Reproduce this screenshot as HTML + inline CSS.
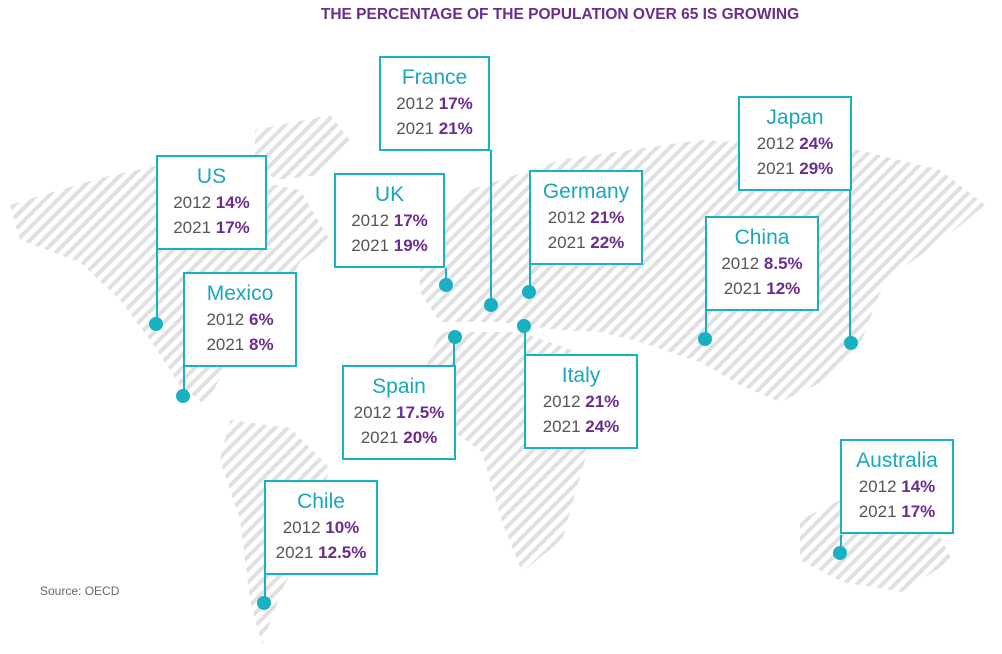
<!DOCTYPE html>
<html><head><meta charset="utf-8"><style>
body{margin:0;background:#fff;width:1002px;height:654px;overflow:hidden;position:relative;font-family:"Liberation Sans",sans-serif}
.t{position:absolute;top:6px;left:0;width:1120px;text-align:center;font-weight:bold;font-size:15.5px;color:#6b2c8f}
.b{position:absolute;width:111px;height:95px;border:2px solid #1ab0c3;background:#fff;text-align:center;box-sizing:border-box}
.b .n{color:#19a7bd;font-size:21px;margin-top:7px;line-height:26px}
.b .r{color:#555;font-size:17px;line-height:25px}
.b .r b{color:#6b2c8f}
.s{position:absolute;left:40px;top:584px;font-size:12px;color:#666}
</style></head><body>
<svg width="1002" height="654" style="position:absolute;left:0;top:0">
<defs><pattern id="p" width="9" height="9" patternUnits="userSpaceOnUse" patternTransform="rotate(45)"><rect width="4" height="9" fill="#e0e0e0"/></pattern></defs>
<g fill="url(#p)">
<polygon points="10,205 100,178 160,165 250,180 300,190 330,240 300,262 280,300 250,330 225,370 205,405 180,385 150,340 120,300 80,262 20,240"/>
<polygon points="255,130 330,115 350,140 320,175 275,180 255,160"/>
<polygon points="230,420 290,428 330,468 312,530 282,590 262,645 250,600 240,520 220,460"/>
<polygon points="420,232 470,190 560,160 700,140 850,148 940,170 985,205 940,242 885,280 862,340 822,382 780,402 740,385 700,362 640,342 600,332 560,330 500,322 440,322 420,292"/>
<polygon points="440,332 520,332 572,350 602,402 582,470 562,540 522,572 502,522 482,452 440,422 420,382"/>
<polygon points="800,520 860,490 922,500 952,560 902,592 842,582 800,560"/>
</g>
<g stroke="#1ab0c3" stroke-width="2" fill="#1ab0c3">
<line x1="491" y1="150" x2="491" y2="305"/><circle cx="491" cy="305" r="6"/>
<line x1="157" y1="250" x2="157" y2="324"/><circle cx="156" cy="324" r="6"/>
<line x1="446" y1="268" x2="446" y2="285"/><circle cx="446" cy="285" r="6"/>
<line x1="530" y1="265" x2="530" y2="292"/><circle cx="529" cy="292" r="6"/>
<line x1="850" y1="190" x2="850" y2="343"/><circle cx="851" cy="343" r="6"/>
<line x1="706" y1="310" x2="706" y2="339"/><circle cx="705" cy="339" r="6"/>
<line x1="184" y1="366" x2="184" y2="396"/><circle cx="183" cy="396" r="6"/>
<line x1="454" y1="366" x2="454" y2="337"/><circle cx="455" cy="337" r="6"/>
<line x1="525" y1="355" x2="525" y2="326"/><circle cx="524" cy="326" r="6"/>
<line x1="265" y1="575" x2="265" y2="603"/><circle cx="264" cy="603" r="6"/>
<line x1="841" y1="535" x2="841" y2="553"/><circle cx="840" cy="553" r="6"/>
</g></svg>
<div class="t">THE PERCENTAGE OF THE POPULATION OVER 65 IS GROWING</div>
<div class="b" style="left:379px;top:56px"><div class="n">France</div><div class="r">2012 <b>17%</b></div><div class="r">2021 <b>21%</b></div></div>
<div class="b" style="left:156px;top:155px"><div class="n">US</div><div class="r">2012 <b>14%</b></div><div class="r">2021 <b>17%</b></div></div>
<div class="b" style="left:334px;top:173px"><div class="n">UK</div><div class="r">2012 <b>17%</b></div><div class="r">2021 <b>19%</b></div></div>
<div class="b" style="left:529px;top:170px;width:114px"><div class="n">Germany</div><div class="r">2012 <b>21%</b></div><div class="r">2021 <b>22%</b></div></div>
<div class="b" style="left:738px;top:96px;width:114px"><div class="n">Japan</div><div class="r">2012 <b>24%</b></div><div class="r">2021 <b>29%</b></div></div>
<div class="b" style="left:705px;top:216px;width:114px"><div class="n">China</div><div class="r">2012 <b>8.5%</b></div><div class="r">2021 <b>12%</b></div></div>
<div class="b" style="left:183px;top:272px;width:114px"><div class="n">Mexico</div><div class="r">2012 <b>6%</b></div><div class="r">2021 <b>8%</b></div></div>
<div class="b" style="left:342px;top:365px;width:114px"><div class="n">Spain</div><div class="r">2012 <b>17.5%</b></div><div class="r">2021 <b>20%</b></div></div>
<div class="b" style="left:524px;top:354px;width:114px"><div class="n">Italy</div><div class="r">2012 <b>21%</b></div><div class="r">2021 <b>24%</b></div></div>
<div class="b" style="left:264px;top:480px;width:114px"><div class="n">Chile</div><div class="r">2012 <b>10%</b></div><div class="r">2021 <b>12.5%</b></div></div>
<div class="b" style="left:840px;top:439px;width:114px"><div class="n">Australia</div><div class="r">2012 <b>14%</b></div><div class="r">2021 <b>17%</b></div></div>
<div class="s">Source: OECD</div>
</body></html>
